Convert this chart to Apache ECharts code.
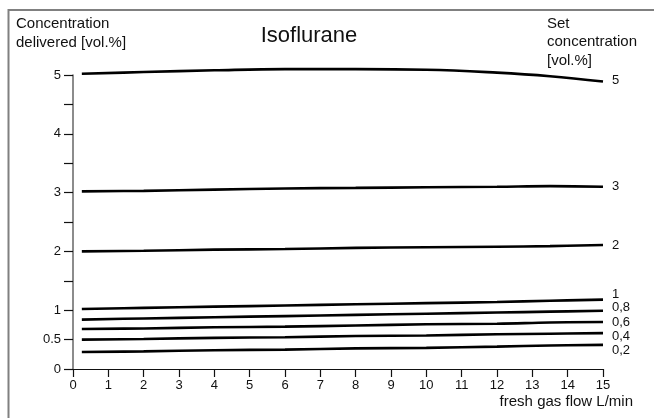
<!DOCTYPE html>
<html>
<head>
<meta charset="utf-8">
<script src="https://cdn.jsdelivr.net/npm/echarts@6/dist/echarts.min.js"></script>
<style>
html,body{margin:0;padding:0;background:#fff;}
#chart{width:654px;height:418px;}
</style>
</head>
<body>
<div id="chart"></div>
<script>
// ---- data ----
const flowX = [0.25, 2, 4, 6, 8, 10, 12, 13.5, 15];
const setNames = ["5", "3", "2", "1", "0,8", "0,6", "0,4", "0,2"];
const conc5  = [5.02, 5.05, 5.08, 5.10, 5.10, 5.09, 5.04, 4.98, 4.89];
const conc3  = [3.02, 3.03, 3.05, 3.07, 3.08, 3.09, 3.10, 3.11, 3.10];
const conc2  = [2.00, 2.01, 2.03, 2.04, 2.06, 2.07, 2.08, 2.09, 2.11];
const conc1  = [1.02, 1.04, 1.06, 1.08, 1.10, 1.12, 1.14, 1.16, 1.18];
const conc08 = [0.84, 0.86, 0.88, 0.90, 0.92, 0.94, 0.96, 0.975, 0.99];
const conc06 = [0.68, 0.69, 0.71, 0.72, 0.74, 0.76, 0.77, 0.79, 0.80];
const conc04 = [0.50, 0.51, 0.53, 0.54, 0.56, 0.57, 0.59, 0.60, 0.61];
const conc02 = [0.29, 0.30, 0.32, 0.33, 0.35, 0.36, 0.38, 0.40, 0.41];
const yTickLabels = [0, 0.5, 1, 2, 3, 4, 5];
const xTickLabels = [0,1,2,3,4,5,6,7,8,9,10,11,12,13,14,15];

// ---- style (kept separate from data) ----
const allSeries = [conc5, conc3, conc2, conc1, conc08, conc06, conc04, conc02];
const labelDy = [-1, 0, 0, -5, -3, 0, 3.5, 6];
const FONT = "Liberation Sans, Arial, Helvetica, sans-serif";

const chart = echarts.init(document.getElementById('chart'), null, {renderer: 'canvas'});

const series = allSeries.map((vals, i) => ({
  name: setNames[i],
  type: 'line',
  data: flowX.map((x, k) => [x, vals[k]]),
  showSymbol: false,
  symbol: 'none',
  smooth: 0.4,
  clip: false,
  lineStyle: {color: '#000', width: 2.6},
  endLabel: {
    show: true,
    formatter: setNames[i],
    distance: 9,
    offset: [0, labelDy[i]],
    color: '#111',
    fontSize: 13,
    fontFamily: FONT
  },
  emphasis: {disabled: true},
  silent: true
}));

chart.setOption({
  animation: false,
  backgroundColor: '#fff',
  grid: {left: 73, right: 51, top: 75, bottom: 49, containLabel: false},
  xAxis: {
    type: 'value', min: 0, max: 15, interval: 1,
    axisLine: {show: true, onZero: false, lineStyle: {color: '#111', width: 1.2}},
    axisTick: {show: true, length: 8, lineStyle: {color: '#111', width: 1.2}},
    axisLabel: {
      margin: 10, fontSize: 13, color: '#111', fontFamily: FONT,
      formatter: v => (xTickLabels.indexOf(v) >= 0 ? String(v) : '')
    },
    splitLine: {show: false}
  },
  yAxis: {
    type: 'value', min: 0, max: 5, interval: 0.5,
    axisLine: {show: true, lineStyle: {color: '#666', width: 1.5}},
    axisTick: {show: true, length: 9, lineStyle: {color: '#111', width: 1.2}},
    axisLabel: {
      margin: 12, fontSize: 13, color: '#111', fontFamily: FONT,
      formatter: v => (yTickLabels.indexOf(v) >= 0 ? String(v) : '')
    },
    splitLine: {show: false}
  },
  series: series,
  graphic: [
    {type: 'rect', shape: {x: 8.5, y: 10, width: 660, height: 420},
     style: {fill: 'none', stroke: '#808080', lineWidth: 2}, silent: true},
    {type: 'text', x: 16, y: 14.6,
     style: {text: 'Concentration\ndelivered [vol.%]', font: '15px ' + FONT, fill: '#111',
             lineHeight: 19, align: 'left', verticalAlign: 'top'}},
    {type: 'text', x: 547, y: 14.5,
     style: {text: 'Set\nconcentration\n[vol.%]', font: '15px ' + FONT, fill: '#111',
             lineHeight: 18.5, align: 'left', verticalAlign: 'top'}},
    {type: 'text', x: 309, y: 35.7,
     style: {text: 'Isoflurane', font: '22px ' + FONT, fill: '#111',
             align: 'center', verticalAlign: 'middle'}},
    {type: 'text', x: 633, y: 401.8,
     style: {text: 'fresh gas flow L/min', font: '15px ' + FONT, fill: '#111',
             align: 'right', verticalAlign: 'middle'}}
  ]
});
</script>
</body>
</html>
